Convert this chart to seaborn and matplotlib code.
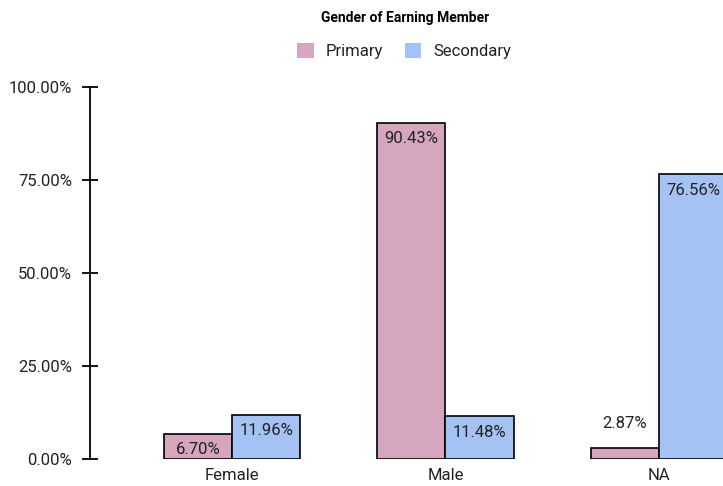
import pandas as pd
import seaborn as sns
import matplotlib.pyplot as plt

# Dane
categories = ['Female', 'Male', 'NA']
primary = [6.70, 90.43, 2.87]
secondary = [11.96, 11.48, 76.56]
series_names = ['Primary', 'Secondary']
colors = ['#D5A6BD', '#A4C2F4']
y_ticks = [0, 25, 50, 75, 100]

sns.set_style("white")
plt.rcParams['font.family'] = ['Roboto', 'DejaVu Sans']
plt.rcParams['text.color'] = '#222222'


def build_frame():
    rows = []
    for cat, p, s in zip(categories, primary, secondary):
        rows.append({'category': cat, 'series': series_names[0], 'value': p})
        rows.append({'category': cat, 'series': series_names[1], 'value': s})
    return pd.DataFrame(rows)


df = build_frame()

fig = plt.figure(figsize=(7.23, 4.86), dpi=100)
ax = fig.add_axes([90 / 723, 27 / 486, 633 / 723, 372 / 486])

sns.barplot(data=df, x='category', y='value', hue='series', order=categories,
            hue_order=series_names, palette=colors, width=0.64, gap=0,
            edgecolor='black', linewidth=1.2, saturation=1, errorbar=None, ax=ax)

ax.set_xlim(-0.665, 2.30)
ax.set_ylim(0, 100)
ax.set_yticks(y_ticks)
ax.set_yticklabels([f'{t:.2f}%' for t in y_ticks])
ax.set_xlabel('')
ax.set_ylabel('')
sns.despine(ax=ax, top=True, right=True, bottom=True)
ax.spines['left'].set_color('black')
ax.spines['left'].set_linewidth(1.3)
ax.tick_params(axis='y', left=True, direction='inout', length=11.5, width=1.3, pad=7,
               labelsize=12, labelcolor='#222222', color='black')
ax.tick_params(axis='x', bottom=False, length=0, pad=6.5, labelsize=12, labelcolor='#222222')
ax.grid(False)

# Etykiety wartości
for container in ax.containers:
    for bar in container:
        h = bar.get_height()
        x = bar.get_x() + bar.get_width() / 2
        if h > 5:
            ax.annotate(f'{h:.2f}%', (x, h), xytext=(0, -6), textcoords='offset points',
                        ha='center', va='top', fontsize=12, color='#222222')
        else:
            ax.annotate(f'{h:.2f}%', (x, h), xytext=(0, 12.5), textcoords='offset points',
                        ha='center', va='bottom', fontsize=12, color='#222222')

handles, labels = ax.get_legend_handles_labels()
ax.legend(handles, labels, loc='center', bbox_to_anchor=(404 / 723, 1 - 51 / 486),
          bbox_transform=fig.transFigure, ncol=2, frameon=False, fontsize=12,
          handlelength=1, handleheight=1, handletextpad=0.7, columnspacing=1.3)
for h in ax.get_legend().legend_handles:
    h.set_edgecolor('none')

fig.text(405 / 723, 1 - 18 / 486, 'Gender of Earning Member', ha='center', va='center',
         fontsize=10, fontweight='bold', color='black')

plt.savefig('out.png', dpi=100)
plt.close()
